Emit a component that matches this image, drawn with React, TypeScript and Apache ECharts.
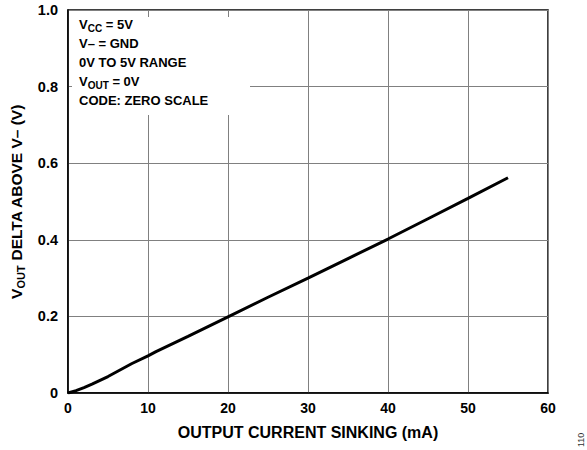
import React, { useEffect, useRef } from "react";
import * as echarts from "echarts";

const currentMA = [0, 1, 2, 3, 5, 8, 10, 11, 15, 20, 25, 30, 35, 40, 45, 50, 55];
const deltaV = [0, 0.006, 0.014, 0.023, 0.043, 0.077, 0.097, 0.108, 0.148, 0.199, 0.25, 0.3, 0.351, 0.402, 0.455, 0.508, 0.562];
const xTicks = [0, 10, 20, 30, 40, 50, 60];
const yTickLabels = ["0", "0.2", "0.4", "0.6", "0.8", "1.0"];

const FONT = "'Liberation Sans', Arial, sans-serif";

export default function App() {
  const ref = useRef<HTMLDivElement>(null);
  useEffect(() => {
    if (!ref.current) return;
    const chart = echarts.init(ref.current, null, { renderer: "svg" });
    const bodyRich = {
      b: { fontFamily: FONT, fontWeight: "bold", fontSize: 13, color: "#000", lineHeight: 19 },
      s: { fontFamily: FONT, fontWeight: "bold", fontSize: 10, color: "#000", lineHeight: 19, padding: [8, 0, 0, 0] },
    };
    chart.setOption({
      animation: false,
      grid: {
        left: 68, top: 10, width: 480, height: 383,
        outerBoundsMode: "none", containLabel: false,
        show: true, borderColor: "#000", borderWidth: 1.5, backgroundColor: "transparent",
      },
      xAxis: {
        type: "value",
        min: 0,
        max: 60,
        interval: 10,
        name: "OUTPUT CURRENT SINKING (mA)",
        nameLocation: "middle",
        nameGap: 31,
        nameTextStyle: { fontFamily: FONT, fontWeight: "bold", fontSize: 16, color: "#000" },
        axisLine: { show: true, lineStyle: { color: "#000", width: 1.5 } },
        axisTick: { show: false },
        axisLabel: { fontFamily: FONT, fontWeight: "bold", fontSize: 14, color: "#000", margin: 8, formatter: (v: number) => (xTicks.includes(v) ? String(v) : "") },
        splitLine: { show: true, lineStyle: { color: "#808080", width: 1 } },
      },
      yAxis: {
        type: "value",
        min: 0,
        max: 1,
        interval: 0.2,
        name: "{b|V}{s|OUT}{b| DELTA ABOVE V– (V)}",
        nameLocation: "middle",
        nameGap: 42,
        nameRotate: 90,
        nameTextStyle: {
          rich: {
            b: { fontFamily: FONT, fontWeight: "bold", fontSize: 15.5, color: "#000" },
            s: { fontFamily: FONT, fontWeight: "bold", fontSize: 11, color: "#000", padding: [9, 0, 0, 0] },
          },
        },
        axisLine: { show: true, lineStyle: { color: "#000", width: 1.5 } },
        axisTick: { show: false },
        axisLabel: {
          fontFamily: FONT, fontWeight: "bold", fontSize: 14.5, color: "#000", margin: 10,
          verticalAlign: "middle",
          formatter: (v: number) => yTickLabels[Math.round(v * 5)] ?? "",
        },
        splitLine: { show: true, lineStyle: { color: "#808080", width: 1 } },
      },
      series: [
        {
          type: "line",
          data: currentMA.map((x, i) => [x, deltaV[i]]),
          showSymbol: false,
          smooth: false,
          lineStyle: { color: "#000", width: 3 },
          z: 5,
        },
      ],
      graphic: [
        { type: "rect", left: 72, top: 17, shape: { width: 178, height: 98 }, style: { fill: "#fff" }, z: 10 },
        {
          type: "text",
          left: 79,
          top: 15,
          z: 11,
          style: {
            text: "{b|V}{s|CC}{b| = 5V}\n{b|V– = GND}\n{b|0V TO 5V RANGE}\n{b|V}{s|OUT}{b| = 0V}\n{b|CODE: ZERO SCALE}",
            rich: bodyRich,
          },
        },
        {
          type: "text",
          x: 576,
          y: 447,
          rotation: Math.PI / 2,
          z: 11,
          style: { text: "110", fontFamily: FONT, fontSize: 9, fill: "#333" },
        },
      ],
    });
    return () => chart.dispose();
  }, []);
  return <div ref={ref} style={{ position: "fixed", left: 0, top: 0, width: 587, height: 450, background: "#fff" }} />;
}
